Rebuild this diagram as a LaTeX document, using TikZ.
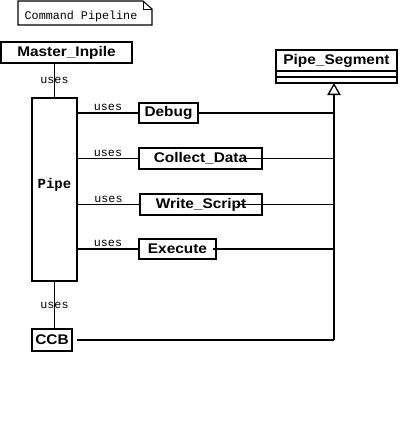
\documentclass[tikz,border=0pt]{standalone}
\usepackage{fontspec}
\setsansfont{Liberation Sans}[FakeStretch=1.1]
\setmonofont{Liberation Mono}
\usetikzlibrary{arrows.meta,positioning}

\tikzset{
  cls/.style={draw,line width=1.1pt,inner sep=0pt,outer sep=0pt,
    font=\sffamily\bfseries\fontsize{10.5}{12}\selectfont},
  uses/.style={font=\ttfamily\fontsize{8.8}{10}\selectfont,inner sep=1pt},
  link/.style={line width=0.9pt}
}

\begin{document}
\begin{tikzpicture}[x=0.75pt,y=-0.75pt]
    \useasboundingbox (0,0) rectangle (400,447);

    % Note
    \draw[line width=0.8pt] (18,1) -- (143,1) -- (152,9) -- (152,25) -- (18,25) -- cycle;
    \draw[line width=0.6pt] (143,1) -- (143,9) -- (152,9);
    \node[uses] (note) at (81,16) {Command Pipeline};

    % Classes
    \node[cls,minimum width=98.25pt,minimum height=15.75pt] (master) at (66.5,52.5) {Master\_Inpile};
    \node[cls,minimum width=33.75pt,minimum height=137.25pt,text depth=9.5pt,
          font=\ttfamily\bfseries\fontsize{10.5}{12}\selectfont] (pipe) at (54.5,189.5) {Pipe};
    \node[cls,minimum width=44.25pt,minimum height=15pt] (debug) at (168.5,113) {Debug};
    \node[cls,minimum width=92.25pt,minimum height=15.75pt] (collect) at (200.5,158.5) {Collect\_Data};
    \node[cls,minimum width=91.5pt,minimum height=15.75pt] (write) at (201,204.5) {Write\_Script};
    \node[cls,minimum width=57.75pt,minimum height=15pt] (execute) at (177.5,249) {Execute};
    \node[cls,minimum width=30pt,minimum height=16.5pt] (ccb) at (52,340) {CCB};

    % Pipe_Segment with empty compartments
    \node[cls,minimum width=90.75pt,minimum height=15.75pt] (seg) at (336.5,60.5) {Pipe\_Segment};
    \node[cls,minimum width=90.75pt,minimum height=4.5pt,below=0pt of seg] (segattr) {};
    \node[cls,minimum width=90.75pt,minimum height=4.5pt,below=0pt of segattr] (segops) {};

    % uses
    \draw[link] (master.south -| pipe) -- node[uses] {uses} (pipe.north);
    \draw[link] (pipe.east |- debug) -- node[uses,above] {uses} (debug.west);
    \draw[link] (pipe.east |- collect) -- node[uses,above] {uses} (collect.west);
    \draw[link] (pipe.east |- write) -- node[uses,above] {uses} (write.west);
    \draw[link] (pipe.east |- execute) -- node[uses,above] {uses} (execute.west);
    \draw[link] (pipe.south) -- node[uses] {uses} (pipe.south |- ccb.north);

    % Generalization
    \coordinate (bus) at (334,340);
    \draw[link] (debug.east) -- (debug.east -| bus);
    \draw[link] ([xshift=-14pt]collect.east) -- (collect.east -| bus);
    \draw[link] ([xshift=-19pt]write.east) -- (write.east -| bus);
    \draw[link] ([xshift=-2pt]execute.east) -- (execute.east -| bus);
    \draw[link] ([xshift=4pt]ccb.east) -- (bus);
    \draw[line width=1.4pt,-{Triangle[open,length=9pt,width=10pt,line width=1pt]}] (bus) -- (bus |- segops.south);
\end{tikzpicture}
\end{document}
